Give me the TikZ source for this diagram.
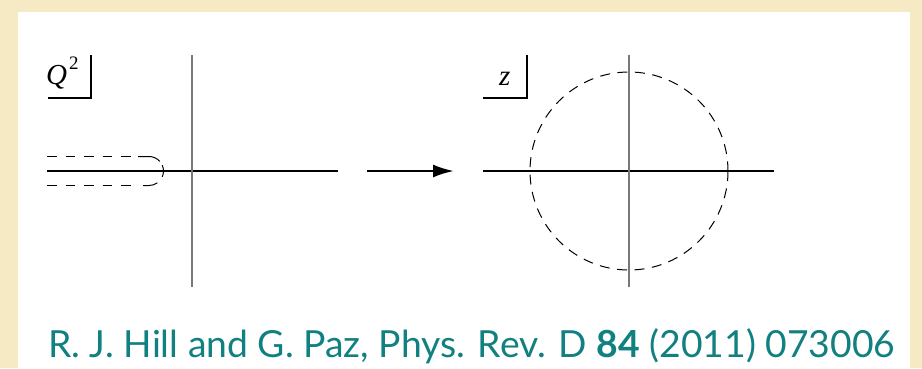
\documentclass[tikz,border=0pt]{standalone}
\usepackage{fontspec}
\setmainfont{Liberation Serif}
\newfontfamily\capfont{Lato}
\usetikzlibrary{arrows.meta}
\definecolor{parch}{RGB}{246,234,196}
\definecolor{teal}{RGB}{16,128,128}
\definecolor{axgray}{RGB}{120,120,120}
\tikzset{
  haxis/.style={draw=black,line width=1.2pt},
  vaxis/.style={draw=axgray,line width=2pt},
  contour/.style={draw=black,line width=1pt,dash pattern=on 9.5pt off 9pt},
  piece/.style={draw=black,line width=1pt},
  circdash/.style={draw=black,line width=1pt,dash pattern=on 10pt off 7.5pt},
  labbox/.style={draw=black,line width=1.1pt},
  maparrow/.style={draw=black,line width=2.4pt,-{Latex[length=21pt,width=13pt]}},
  caption/.style={text=teal,inner sep=0pt,font=\capfont\fontsize{37.3}{40}\selectfont}
}
\begin{document}
\begin{tikzpicture}[x=1pt,y=-1pt]
\useasboundingbox (0,0) rectangle (922,368);
\fill[parch] (0,0) rectangle (922,368);
\fill[white] (18,12) rectangle (910,368);
% left plane
\coordinate (lw) at (47,171);
\coordinate (le) at (338,171);
\coordinate (ln) at (192,55);
\coordinate (ls) at (192,287);
\draw[haxis] (lw) -- (le);
\draw[vaxis] (ln) -- (ls);
% cut contour
\coordinate (ct0) at (47,156.5);
\coordinate (ct1) at (131,156.5);
\coordinate (ct2) at (138,156.5);
\coordinate (ctr) at (149,156.5);
\coordinate (cb0) at (47,185.5);
\coordinate (cb1) at (131,185.5);
\coordinate (lc) at (149,171);
\draw[contour] (ct0) -- (ct1);
\draw[contour] (cb0) -- (cb1);
\draw[piece] (ct2) -- (ctr) arc(-90:-42:14.5);
\draw[piece] (lc) ++(-24:14.5) arc(-24:24:14.5);
\draw[piece] (lc) ++(55:14.5) arc(55:90:14.5) -- ++(-6,0);
\node[anchor=base west,inner sep=0pt,font=\fontsize{29}{30}\selectfont] (qlab) at (46,84) {\textit{Q}\hspace{2pt}\raisebox{15pt}{\fontsize{19}{20}\selectfont 2}};
\coordinate (qa) at (48,98);
\coordinate (qb) at (91,98);
\coordinate (qc) at (91,55);
\draw[labbox] (qa) -- (qb) -- (qc);
% arrow
\coordinate (aw) at (367,171);
\coordinate (ae) at (454,171);
\draw[maparrow] (aw) -- (ae);
% right plane
\coordinate (rw) at (483,171);
\coordinate (re) at (774,171);
\coordinate (rn) at (629,55);
\coordinate (rs) at (629,287);
\coordinate (rc) at (629,171);
\draw[haxis] (rw) -- (re);
\draw[vaxis] (rn) -- (rs);
\draw[circdash] (rc) circle[radius=99];
\node[anchor=base west,inner sep=0pt,font=\fontsize{29}{30}\selectfont] (zlab) at (499,85) {\textit{z}};
\coordinate (za) at (483,98);
\coordinate (zb) at (527,98);
\coordinate (zc) at (527,55);
\draw[labbox] (za) -- (zb) -- (zc);
% caption
\node[caption,anchor=base west] (cap) at (48,357) {R. J. Hill and G. Paz, Phys. Rev. D \textbf{84} (2011) 073006};
\end{tikzpicture}
\end{document}
